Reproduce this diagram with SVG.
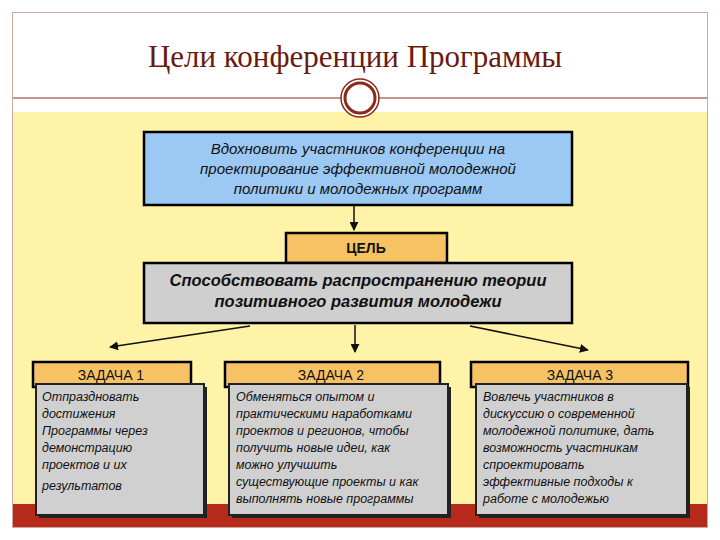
<svg xmlns="http://www.w3.org/2000/svg" width="720" height="540" viewBox="0 0 720 540">
<defs>
<style>
.b{stroke:#000;stroke-width:2.5}
.t{font-family:"Liberation Sans",Arial,sans-serif;fill:#111}
.i{font-style:italic;font-size:15px}
.s{font-size:12.5px;font-style:italic}
.h{font-size:14px}
.c{stroke:#111;stroke-width:1.5;fill:none;marker-end:url(#a)}
</style>
<marker id="a" viewBox="0 0 10 10" refX="9" refY="5" markerWidth="6" markerHeight="6" orient="auto"><path d="M0,0L10,5L0,10z" fill="#111"/></marker>
</defs>
<rect width="720" height="540" fill="#fff"/>
<rect x="12.5" y="12.5" width="695" height="515" fill="#fff" stroke="#c9a9a0"/>
<rect x="13" y="112" width="694" height="392" fill="#fff3a8"/>
<rect x="13" y="504" width="694" height="23" fill="#b52a1a"/>
<text x="355" y="67" text-anchor="middle" font-family="Liberation Serif,serif" font-size="31" fill="#6a1a10">Цели конференции Программы</text>
<line x1="13" y1="98" x2="707" y2="98" stroke="#8a2a1a" stroke-width="1.2"/>
<circle cx="360" cy="98" r="19" fill="#fff" stroke="#8a2a1a" stroke-width="1.5"/>
<circle cx="360" cy="98" r="15" fill="#fff" stroke="#8a2a1a" stroke-width="3"/>
<g id="connectors">
<line class="c" x1="354" y1="206" x2="354" y2="230"/>
<line class="c" x1="250" y1="326" x2="110" y2="347"/>
<line class="c" x1="355" y1="325" x2="355" y2="352"/>
<line class="c" x1="470" y1="326" x2="588" y2="350"/>
</g>
<g id="goal">
<rect class="b" x="144" y="132" width="428" height="73" fill="#9cc8f4"/>
<text class="t i" text-anchor="middle" x="358"><tspan x="358" y="154">Вдохновить участников конференции на</tspan><tspan x="358" y="174">проектирование эффективной молодежной</tspan><tspan x="358" y="194">политики и молодежных программ</tspan></text>
</g>
<g id="tsel">
<rect class="b" x="286" y="233" width="161" height="30" fill="#f6c264"/>
<text class="t h" x="366" y="253" text-anchor="middle" font-weight="bold">ЦЕЛЬ</text>
</g>
<g id="main">
<rect class="b" x="144" y="263" width="428" height="60" fill="#cfcfcf"/>
<text class="t" text-anchor="middle" font-size="16.5" font-weight="bold" font-style="italic"><tspan x="358" y="286">Способствовать распространению теории</tspan><tspan x="358" y="307">позитивного развития молодежи</tspan></text>
</g>
<g id="z1">
<rect x="33" y="362" width="158" height="25" fill="#f6c264" class="b"/>
<text class="t h" x="111" y="380" text-anchor="middle">ЗАДАЧА 1</text>
<rect x="39" y="387" width="168" height="131" fill="#222"/>
<rect x="36" y="384" width="168" height="131" fill="#d0d0d0" stroke="#222" stroke-width="2"/>
<text class="t s"><tspan x="42" y="401">Отпраздновать</tspan><tspan x="42" y="418">достижения</tspan><tspan x="42" y="435">Программы через</tspan><tspan x="42" y="452">демонстрацию</tspan><tspan x="42" y="469">проектов и их</tspan><tspan x="42" y="490">результатов</tspan></text>
</g>
<g id="z2">
<rect x="225" y="362" width="215" height="25" fill="#f6c264" class="b"/>
<text class="t h" x="331" y="380" text-anchor="middle">ЗАДАЧА 2</text>
<rect x="232" y="387" width="219" height="131" fill="#222"/>
<rect x="229" y="384" width="219" height="131" fill="#d0d0d0" stroke="#222" stroke-width="2"/>
<text class="t s"><tspan x="236" y="401">Обменяться опытом и</tspan><tspan x="236" y="418">практическими наработками</tspan><tspan x="236" y="435">проектов и регионов, чтобы</tspan><tspan x="236" y="452">получить новые идеи, как</tspan><tspan x="236" y="469">можно улучшить</tspan><tspan x="236" y="486">существующие проекты и как</tspan><tspan x="236" y="503">выполнять новые программы</tspan></text>
</g>
<g id="z3">
<rect x="471" y="362" width="217" height="25" fill="#f6c264" class="b"/>
<text class="t h" x="580" y="380" text-anchor="middle">ЗАДАЧА 3</text>
<rect x="479" y="387" width="211" height="131" fill="#222"/>
<rect x="476" y="384" width="211" height="131" fill="#d0d0d0" stroke="#222" stroke-width="2"/>
<text class="t s"><tspan x="483" y="401">Вовлечь участников в</tspan><tspan x="483" y="418">дискуссию о современной</tspan><tspan x="483" y="435">молодежной политике, дать</tspan><tspan x="483" y="452">возможность участникам</tspan><tspan x="483" y="469">спроектировать</tspan><tspan x="483" y="486">эффективные подходы к</tspan><tspan x="483" y="503">работе с молодежью</tspan></text>
</g>
</svg>
